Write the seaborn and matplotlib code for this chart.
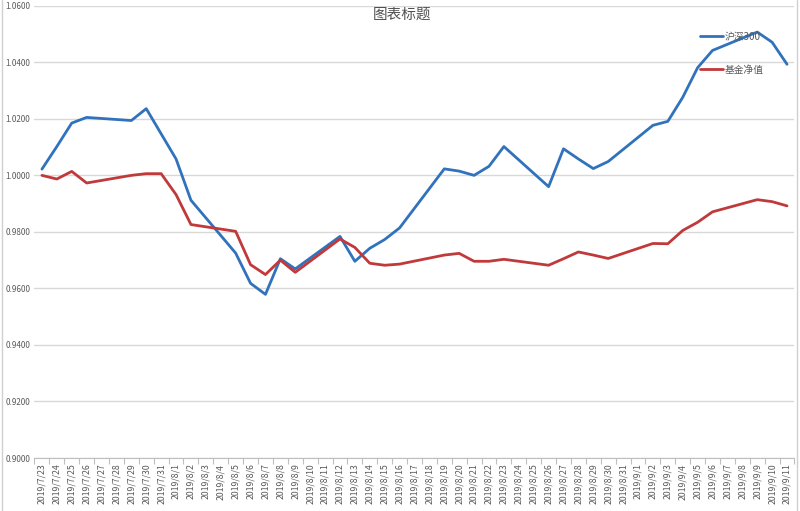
import pandas as pd
import numpy as np
import matplotlib
matplotlib.use("Agg")
import matplotlib.pyplot as plt
import seaborn as sns
from matplotlib.lines import Line2D

# trading days and the two series
dates = ['2019-07-23', '2019-07-24', '2019-07-25', '2019-07-26',
         '2019-07-29', '2019-07-30', '2019-07-31', '2019-08-01', '2019-08-02',
         '2019-08-05', '2019-08-06', '2019-08-07', '2019-08-08', '2019-08-09',
         '2019-08-12', '2019-08-13', '2019-08-14', '2019-08-15', '2019-08-16',
         '2019-08-19', '2019-08-20', '2019-08-21', '2019-08-22', '2019-08-23',
         '2019-08-26', '2019-08-27', '2019-08-28', '2019-08-29', '2019-08-30',
         '2019-09-02', '2019-09-03', '2019-09-04', '2019-09-05', '2019-09-06',
         '2019-09-09', '2019-09-10', '2019-09-11']
hs300 = [1.0022, 1.0102, 1.0185, 1.0205,
         1.0194, 1.0236, 1.0147, 1.0058, 0.9912,
         0.9725, 0.9618, 0.9579, 0.9705, 0.9669,
         0.9784, 0.9696, 0.9742, 0.9773, 0.9814,
         1.0023, 1.0015, 1.0000, 1.0032, 1.0102,
         0.9960, 1.0094, 1.0058, 1.0024, 1.0049,
         1.0177, 1.0191, 1.0276, 1.0381, 1.0442,
         1.0507, 1.0471, 1.0393]
fund_nav = [1.0000, 0.9987, 1.0014, 0.9973,
            1.0000, 1.0006, 1.0006, 0.9932, 0.9826,
            0.9802, 0.9684, 0.9649, 0.9700, 0.9657,
            0.9775, 0.9745, 0.9689, 0.9682, 0.9686,
            0.9718, 0.9724, 0.9696, 0.9696, 0.9703,
            0.9682, 0.9705, 0.9729, 0.9718, 0.9706,
            0.9759, 0.9758, 0.9805, 0.9834, 0.9871,
            0.9914, 0.9907, 0.9892]
series_names = ['沪深300', '基金净值']
colors = ['#3072BC', '#C0393B']
yticks = [0.90, 0.92, 0.94, 0.96, 0.98, 1.00, 1.02, 1.04, 1.06]

df = pd.DataFrame({'date': pd.to_datetime(dates),
                   series_names[0]: hs300,
                   series_names[1]: fund_nav})
long = df.melt(id_vars='date', var_name='series', value_name='value')

sns.set_style('white')
plt.rcParams['font.family'] = ['Noto Sans CJK SC', 'DejaVu Sans']

fig = plt.figure(figsize=(8, 5.11), dpi=100)
ax = fig.add_axes([0.0431, 0.1037, 0.95, 0.885])

sns.lineplot(data=long, x='date', y='value', hue='series',
             palette=colors, linewidth=2, ax=ax)

start = df['date'].min()
end = df['date'].max()
half = pd.Timedelta(hours=12)
ax.set_xlim(start - half, end + half)
ax.set_ylim(yticks[0], yticks[-1])
ax.set_yticks(yticks)
ax.yaxis.set_major_formatter(matplotlib.ticker.FormatStrFormatter('%.4f'))
ax.grid(axis='y', color='#D9D9D9', linewidth=1)
ax.set_axisbelow(True)

days = pd.date_range(start, end, freq='D')
ax.set_xticks(days)
ax.set_xticklabels([f'{d.year}/{d.month}/{d.day}' for d in days],
                   rotation=90, fontsize=6.3, color='#595959')
ax.set_xticks(pd.date_range(start - half, end + half, freq='D'), minor=True)
ax.tick_params(axis='x', which='major', length=0, pad=4)
ax.tick_params(axis='x', which='minor', length=4, color='#BFBFBF', width=0.8,
               direction='out', bottom=True)
ax.tick_params(axis='y', length=0, labelsize=5.8, labelcolor='#595959', pad=3)

for s in ['top', 'right', 'left']:
    ax.spines[s].set_visible(False)
ax.spines['bottom'].set_color('#BFBFBF')
ax.spines['bottom'].set_linewidth(0.8)

ax.set_xlabel('')
ax.set_ylabel('')

leg = ax.legend(loc='upper left', bbox_to_anchor=(0.876, 0.943), frameon=False,
                fontsize=7, handlelength=2.3, handletextpad=0.2,
                labelspacing=2.4, borderpad=0, borderaxespad=0)
for t in leg.get_texts():
    t.set_color('#595959')

fig.text(0.502, 0.972, '图表标题', ha='center', va='center',
         fontsize=10.5, color='#505050')

# sheet borders
fig.add_artist(Line2D([0.002, 0.002], [0, 1], color='#D0D0D0', linewidth=1))
fig.add_artist(Line2D([0.996, 0.996], [0, 1], color='#D0D0D0', linewidth=1))

fig.savefig('out.png', dpi=100)
